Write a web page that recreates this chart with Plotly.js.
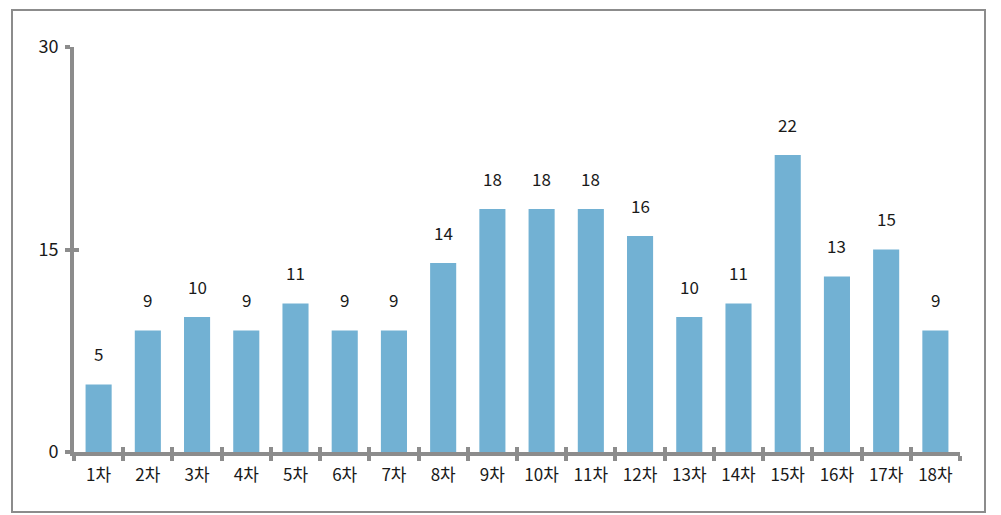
<!DOCTYPE html>
<html><head><meta charset="utf-8">
<script src="https://cdn.plot.ly/plotly-3.0.1.min.js"></script>
<style>html,body{margin:0;padding:0;background:#fff;}#chart{width:1001px;height:515px;}
#frame{position:absolute;left:11px;top:9px;width:975px;height:504px;border:2px solid #8c8c8c;box-sizing:border-box;pointer-events:none;}</style>
</head><body>
<div id="chart"></div><div id="frame"></div>
<script>
const categories = ["1차","2차","3차","4차","5차","6차","7차","8차","9차","10차","11차","12차","13차","14차","15차","16차","17차","18차"];
const values = [5,9,10,9,11,9,9,14,18,18,18,16,10,11,22,13,15,9];
const yTicks = [0,15,30];

const fnt = {family:"'Noto Sans CJK KR', 'Malgun Gothic', sans-serif", size:17, color:"#1a1a1a"};
const axisColor = "#8c8c8c";

const traces = [
  {type:"bar", x:categories, y:values, marker:{color:"#72b1d3"}, hoverinfo:"skip", showlegend:false},
  {type:"bar", x:categories, y:values, xaxis:"x2", yaxis:"y2", marker:{color:"rgba(0,0,0,0)"}, hoverinfo:"skip", showlegend:false}
];

const annotations = categories.map((c,i)=>({x:c, y:values[i], xref:"x", yref:"y", text:String(values[i]), showarrow:false, yshift:31, font:fnt}));

const layout = {
  width:1001, height:515,
  margin:{l:74, r:41, t:47, b:63},
  paper_bgcolor:"#fff", plot_bgcolor:"#fff",
  bargap:0.47,
  showlegend:false,
  xaxis:{type:"category", tickson:"boundaries", ticks:"outside", ticklen:5, tickwidth:4, tickcolor:axisColor,
         showline:true, linecolor:axisColor, linewidth:4, showgrid:false, zeroline:false,
         tickfont:fnt, ticklabelstandoff:5, fixedrange:true},
  yaxis:{range:[0,30], tickvals:yTicks, ticks:"outside", ticklen:5, tickwidth:4, tickcolor:axisColor,
         showline:true, linecolor:axisColor, linewidth:4, showgrid:false, zeroline:false,
         tickfont:Object.assign({},fnt,{size:18}), ticklabelstandoff:3, fixedrange:true},
  xaxis2:{type:"category", overlaying:"x", matches:"x", tickson:"boundaries", ticks:"inside", ticklen:5, tickwidth:4, tickcolor:axisColor,
          showticklabels:false, showline:false, showgrid:false, zeroline:false, side:"bottom", anchor:"y2"},
  yaxis2:{range:[0,30], overlaying:"y", matches:"y", tickvals:yTicks, ticks:"inside", ticklen:5, tickwidth:4, tickcolor:axisColor,
          showticklabels:false, showline:false, showgrid:false, zeroline:false, side:"left", anchor:"x2"},
  annotations:annotations
};
Plotly.newPlot("chart", traces, layout, {displayModeBar:false, staticPlot:true});
</script>
</body></html>
